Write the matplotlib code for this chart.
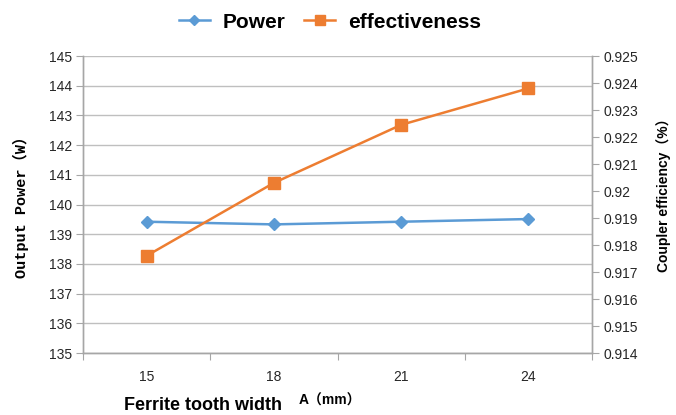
import numpy as np
import matplotlib
matplotlib.use('Agg')
import matplotlib.pyplot as plt
from matplotlib.ticker import FixedLocator, NullFormatter

# ---- data -------------------------------------------------------------------
widths = ['15', '18', '21', '24']
power = [139.42, 139.33, 139.42, 139.51]
effectiveness = [0.9176, 0.9203, 0.92245, 0.9238]

C_POW, C_EFF = '#5B9BD5', '#ED7D31'
GRID, AXC = '#BFBFBF', '#A6A6A6'
TXT = '#262626'

plt.rcParams['font.family'] = ['Liberation Sans', 'Noto Sans CJK SC', 'DejaVu Sans']

fig = plt.figure(figsize=(6.76, 4.15), dpi=100)
ax = fig.add_axes([83 / 676, 62 / 415, (592 - 83) / 676, (353 - 56) / 415])
x = np.arange(len(widths))

ln1, = ax.plot(x, power, color=C_POW, lw=1.8, marker='D', ms=6, label='Power', zorder=3)
ax.set_xlim(-0.5, len(widths) - 0.5)
ax.set_ylim(135, 145)
ax.set_yticks(np.arange(135, 146, 1))
ax.grid(axis='y', color=GRID, lw=1)
ax.set_axisbelow(True)
ax.xaxis.set_major_locator(FixedLocator(np.arange(-0.5, len(widths), 1)))
ax.xaxis.set_major_formatter(NullFormatter())
ax.xaxis.set_minor_locator(FixedLocator(x))
ax.set_xticklabels(widths, minor=True)
ax.tick_params(axis='x', which='major', length=5, color=AXC, direction='out')
ax.tick_params(axis='x', which='minor', length=0, pad=12, labelsize=10, labelcolor=TXT)
ax.tick_params(axis='y', length=5, color=AXC, labelsize=10, labelcolor=TXT, pad=3)

ax2 = ax.twinx()
ln2, = ax2.plot(x, effectiveness, color=C_EFF, lw=1.8, marker='s', ms=8,
                label='effectiveness', zorder=3)
ax2.set_ylim(0.914, 0.925)
ax2.set_yticks(np.arange(0.914, 0.92501, 0.001))
ax2.set_yticklabels([f'{v:g}' for v in np.round(np.arange(0.914, 0.92501, 0.001), 3)])
ax2.tick_params(axis='y', length=5, color=AXC, labelsize=10, labelcolor=TXT, pad=3)

for a in (ax, ax2):
    a.spines['top'].set_visible(False)
    for s in ('left', 'right', 'bottom'):
        a.spines[s].set_color(AXC)
        a.spines[s].set_linewidth(1)

fig.text(21 / 676, 1 - 203 / 415, 'Output Power（W）', rotation=90, ha='center', va='center',
         fontsize=11, fontweight='bold', family=['Liberation Mono', 'Noto Sans CJK SC'])
fig.text(664 / 676, 1 - 192 / 415, 'Coupler efficiency（%）', rotation=90, ha='center',
         va='center', fontsize=10, fontweight='bold')
fig.text(124 / 676, 1 - 405 / 415, 'Ferrite tooth width', ha='left', va='center',
         fontsize=13, fontweight='bold')
fig.text(299 / 676, 1 - 401 / 415, 'A（mm）', ha='left', va='center', fontsize=10,
         fontweight='bold')

fig.legend(handles=[ln1, ln2], loc='center', bbox_to_anchor=(0.488, 1 - 22 / 415), ncol=2,
           frameon=False, prop={'weight': 'bold', 'size': 15}, handlelength=1.5,
           columnspacing=0.9, handletextpad=0.6, markerscale=0.85)

fig.savefig('out.png', dpi=100, facecolor='white')
